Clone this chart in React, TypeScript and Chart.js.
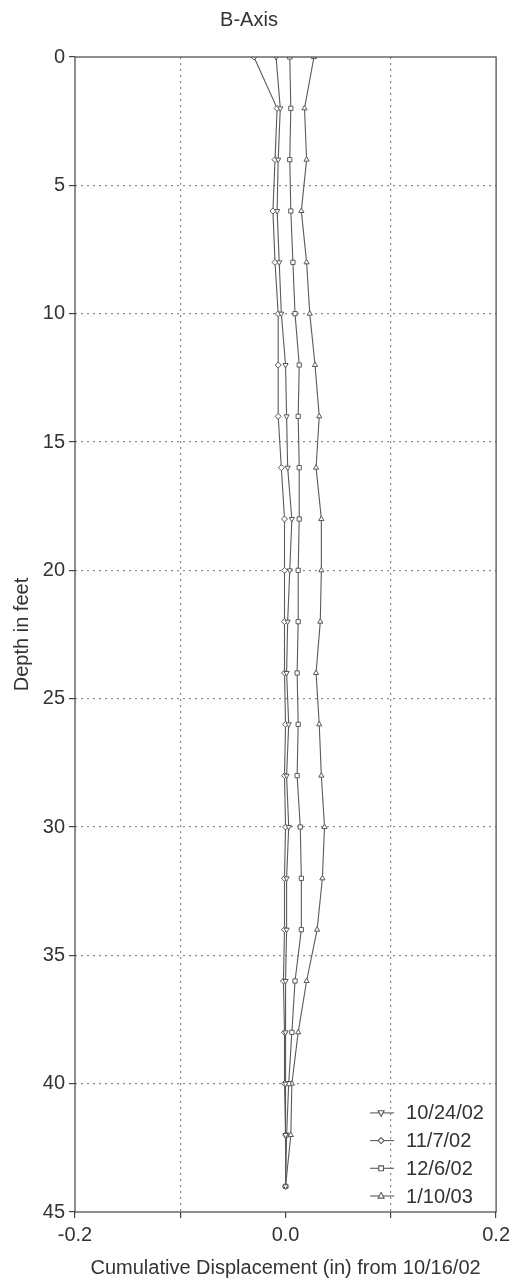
import React, { useEffect, useRef } from 'react';
import { Chart, registerables } from 'chart.js';

Chart.register(...registerables);

const chartTitle = 'B-Axis';
const xAxisTitle = 'Cumulative Displacement (in) from 10/16/02';
const yAxisTitle = 'Depth in feet';

const depthFt = [0, 2, 4, 6, 8, 10, 12, 14, 16, 18, 20, 22, 24, 26, 28, 30, 32, 34, 36, 38, 40, 42, 44];

const seriesLabels = ['10/24/02', '11/7/02', '12/6/02', '1/10/03'];

const disp102402 = [-0.009, -0.005, -0.007, -0.008, -0.006, -0.004, 0.000, 0.001, 0.002, 0.006, 0.004, 0.002, 0.001, 0.003, 0.001, 0.003, 0.001, 0.001, 0.000, 0.000, 0.000, 0.000, 0.000];
const disp110702 = [-0.030, -0.008, -0.010, -0.012, -0.010, -0.007, -0.007, -0.007, -0.004, -0.001, -0.001, -0.001, -0.001, 0.000, -0.001, 0.000, -0.001, -0.001, -0.002, -0.001, -0.001, 0.000, 0.000];
const disp120602 = [0.004, 0.005, 0.004, 0.005, 0.007, 0.009, 0.013, 0.012, 0.013, 0.013, 0.012, 0.012, 0.011, 0.012, 0.011, 0.014, 0.015, 0.015, 0.009, 0.006, 0.003, 0.001, 0.000];
const disp011003 = [0.027, 0.018, 0.020, 0.015, 0.020, 0.023, 0.028, 0.032, 0.029, 0.034, 0.034, 0.033, 0.029, 0.032, 0.034, 0.037, 0.035, 0.030, 0.020, 0.012, 0.006, 0.005, 0.000];

const seriesValues = [disp102402, disp110702, disp120602, disp011003];
const seriesMarkers = ['triangle', 'rectRot', 'rect', 'triangle'];
const seriesRotation = [180, 0, 0, 0];

const xLabeledTicks = [-0.2, 0.0, 0.2];

const FONT = "'Liberation Sans', Arial, Helvetica, sans-serif";
const TEXT = '#333333';
const LINE = '#5a5a5a';

function drawMarker(ctx: CanvasRenderingContext2D, style: string, rot: number, x: number, y: number, r: number) {
  ctx.save();
  ctx.translate(x, y);
  ctx.rotate((rot * Math.PI) / 180);
  ctx.beginPath();
  if (style === 'triangle') {
    ctx.moveTo(0, -r * 1.15);
    ctx.lineTo(r, r * 0.7);
    ctx.lineTo(-r, r * 0.7);
    ctx.closePath();
  } else if (style === 'rectRot') {
    ctx.moveTo(0, -r);
    ctx.lineTo(r, 0);
    ctx.lineTo(0, r);
    ctx.lineTo(-r, 0);
    ctx.closePath();
  } else {
    ctx.rect(-r * 0.8, -r * 0.8, r * 1.6, r * 1.6);
  }
  ctx.fillStyle = '#ffffff';
  ctx.fill();
  ctx.stroke();
  ctx.restore();
}

const framePlugin = {
  id: 'frame',
  afterDatasetsDraw(chart: any) {
    const { ctx, chartArea } = chart;
    ctx.save();
    ctx.strokeStyle = '#444444';
    ctx.lineWidth = 1.2;
    ctx.strokeRect(chartArea.left, chartArea.top, chartArea.right - chartArea.left, chartArea.bottom - chartArea.top);
    ctx.restore();
  },
};

const legendPlugin = {
  id: 'customLegend',
  afterDraw(chart: any) {
    const { ctx, chartArea } = chart;
    const n = seriesLabels.length;
    ctx.save();
    ctx.font = `20px ${FONT}`;
    ctx.textBaseline = 'middle';
    ctx.textAlign = 'left';
    for (let i = 0; i < n; i++) {
      const y = chartArea.bottom - 16 - (n - 1 - i) * 27.7;
      const x0 = chartArea.right - 126;
      ctx.strokeStyle = LINE;
      ctx.lineWidth = 1.1;
      ctx.beginPath();
      ctx.moveTo(x0, y);
      ctx.lineTo(x0 + 24, y);
      ctx.stroke();
      drawMarker(ctx, seriesMarkers[i], seriesRotation[i], x0 + 11, y, 3);
      ctx.fillStyle = TEXT;
      ctx.fillText(seriesLabels[i], x0 + 36, y + 1);
    }
    ctx.restore();
  },
};

export default function App() {
  const canvasRef = useRef<HTMLCanvasElement | null>(null);

  useEffect(() => {
    if (!canvasRef.current) return;
    const datasets = seriesLabels.map((label, i) => ({
      label,
      data: depthFt.map((d, j) => ({ x: seriesValues[i][j], y: d })),
      borderColor: LINE,
      borderWidth: 1.1,
      backgroundColor: '#ffffff',
      pointStyle: seriesMarkers[i],
      pointRotation: seriesRotation[i],
      pointRadius: 3,
      pointBorderWidth: 1,
      pointBorderColor: LINE,
      pointBackgroundColor: '#ffffff',
      fill: false,
      tension: 0,
    }));

    const chart = new Chart(canvasRef.current, {
      type: 'line',
      data: { datasets } as any,
      plugins: [framePlugin, legendPlugin],
      options: {
        animation: false,
        responsive: false,
        devicePixelRatio: 1,
        events: [],
        layout: { padding: { left: 0, right: 17, top: 0, bottom: 0 } },
        plugins: {
          legend: { display: false },
          tooltip: { enabled: false },
          title: {
            display: true,
            text: chartTitle,
            color: TEXT,
            font: { family: FONT, size: 20, weight: 'normal' },
            padding: { top: 8, bottom: 25 },
          },
        },
        scales: {
          x: {
            type: 'linear',
            min: -0.2,
            max: 0.2,
            afterFit(scale: any) {
              scale.height = 76;
            },
            ticks: {
              stepSize: 0.1,
              autoSkip: false,
              maxRotation: 0,
              padding: 5,
              color: TEXT,
              font: { family: FONT, size: 20 },
              callback: (v: any) => {
                const val = Number(v);
                return xLabeledTicks.some((t) => Math.abs(t - val) < 1e-9) ? Math.abs(val).toFixed(1) === '0.0' ? '0.0' : val.toFixed(1) : '';
              },
            },
            grid: {
              color: (c: any) => {
                const v = c.tick ? c.tick.value : 0;
                return Math.abs(v) < 1e-9 || Math.abs(Math.abs(v) - 0.2) < 1e-9 ? 'rgba(0,0,0,0)' : '#8a8a8a';
              },
              lineWidth: 1.2,
              tickColor: '#444444',
              tickLength: 6,
              tickBorderDash: [],
            },
            border: { display: false, dash: [2, 4] },
            title: {
              display: true,
              text: xAxisTitle,
              color: TEXT,
              font: { family: FONT, size: 20 },
              padding: { top: 0, bottom: 8 },
            },
          },
          y: {
            type: 'linear',
            min: 0,
            max: 45,
            reverse: true,
            afterFit(scale: any) {
              scale.width = 75;
            },
            ticks: {
              stepSize: 5,
              autoSkip: false,
              padding: 4,
              color: TEXT,
              font: { family: FONT, size: 20 },
            },
            grid: {
              color: (c: any) => {
                const v = c.tick ? c.tick.value : 0;
                return v === 0 || v === 45 ? 'rgba(0,0,0,0)' : '#8a8a8a';
              },
              lineWidth: 1.2,
              tickColor: '#444444',
              tickLength: 6,
              tickBorderDash: [],
            },
            border: { display: false, dash: [2, 4] },
            title: {
              display: true,
              text: yAxisTitle,
              color: TEXT,
              font: { family: FONT, size: 20 },
              padding: { top: 10, bottom: 0 },
            },
          },
        },
      } as any,
    });
    return () => chart.destroy();
  }, []);

  return (
    <div style={{ position: 'absolute', left: 0, top: 0, width: 515, height: 1288, background: '#ffffff' }}>
      <canvas ref={canvasRef} width={515} height={1288} style={{ display: 'block', width: 515, height: 1288 }} />
    </div>
  );
}
